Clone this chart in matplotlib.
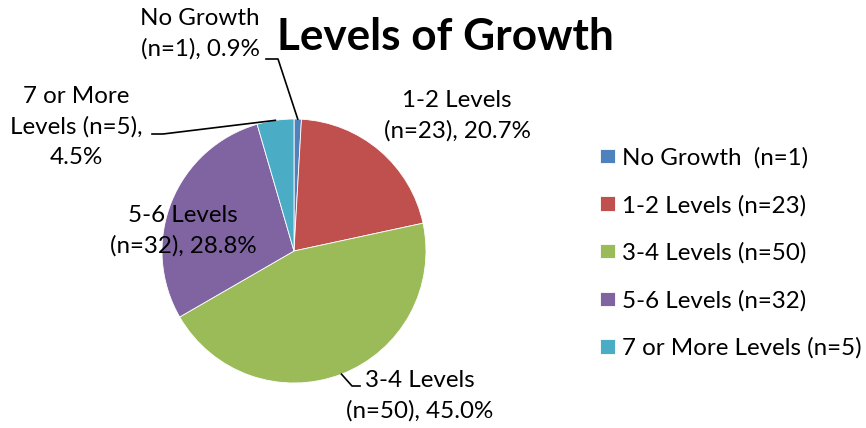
import matplotlib
matplotlib.use("Agg")
import matplotlib.pyplot as plt
import numpy as np

categories = ["No Growth", "1-2 Levels", "3-4 Levels", "5-6 Levels", "7 or More Levels"]
legend_labels = ["No Growth  (n=1)", "1-2 Levels (n=23)", "3-4 Levels (n=50)",
                 "5-6 Levels (n=32)", "7 or More Levels (n=5)"]
counts = [1, 23, 50, 32, 5]
colors = ["#4F81BD", "#C0504D", "#9BBB59", "#8064A2", "#4BACC6"]
title = "Levels of Growth"

W, H = 866, 428
plt.rcParams['font.family'] = ['Lato', 'DejaVu Sans']
fig = plt.figure(figsize=(W / 100, H / 100), dpi=100)
ax = fig.add_axes([0, 0, 1, 1])

def py(y):
    return H - y

cx, cy, r = 294, py(251), 132
wedges, _ = ax.pie(counts, colors=colors, startangle=90, counterclock=False,
                   center=(cx, cy), radius=r, frame=True,
                   wedgeprops=dict(edgecolor="white", linewidth=0.6))
ax.set_xlim(0, W)
ax.set_ylim(0, H)
ax.set_aspect("equal")
ax.axis("off")

total = sum(counts)
pcts = [c / total * 100 for c in counts]

# mid-angle edge points
edge = []
start = 90.0
for c in counts:
    span = c / total * 360
    mid = np.deg2rad(start - span / 2)
    edge.append((cx + r * np.cos(mid), cy + r * np.sin(mid)))
    start -= span

fs = 17.4
texts = [
    f"No Growth\n(n={counts[0]}), {pcts[0]:.1f}%",
    f"1-2 Levels\n(n={counts[1]}), {pcts[1]:.1f}%",
    f"3-4 Levels\n(n={counts[2]}), {pcts[2]:.1f}%",
    f"5-6 Levels\n(n={counts[3]}), {pcts[3]:.1f}%",
    f"7 or More\nLevels (n={counts[4]}),\n{pcts[4]:.1f}%",
]
pos = [(200, 34), (457, 116), (420, 396), (183, 231), (76, 127)]
for t, (x, y) in zip(texts, pos):
    ax.text(x, py(y), t, ha="center", va="center", fontsize=fs,
            linespacing=1.54, color="black")

# leader lines
ex, ey = edge[0]
ax.plot([266, 278, ex], [py(59), py(59), ey], color="black", lw=1.2)
ex, ey = edge[4]
ax.plot([152, 163, ex], [py(134), py(134), ey], color="black", lw=1.2)
ex, ey = edge[2]
ax.plot([ex, 352, 360], [ey, py(386), py(386)], color="black", lw=1.2)

ax.text(445, py(37), title, ha="center", va="center", fontsize=31.8,
        fontweight="bold", color="black")

ax.legend(wedges, legend_labels, loc="center left",
          bbox_to_anchor=(600, py(253)), bbox_transform=ax.transData,
          frameon=False, fontsize=fs, handlelength=0.62, handleheight=0.54,
          handletextpad=0.29, labelspacing=1.08, borderpad=0, borderaxespad=0)

fig.savefig("out.png", dpi=100)
